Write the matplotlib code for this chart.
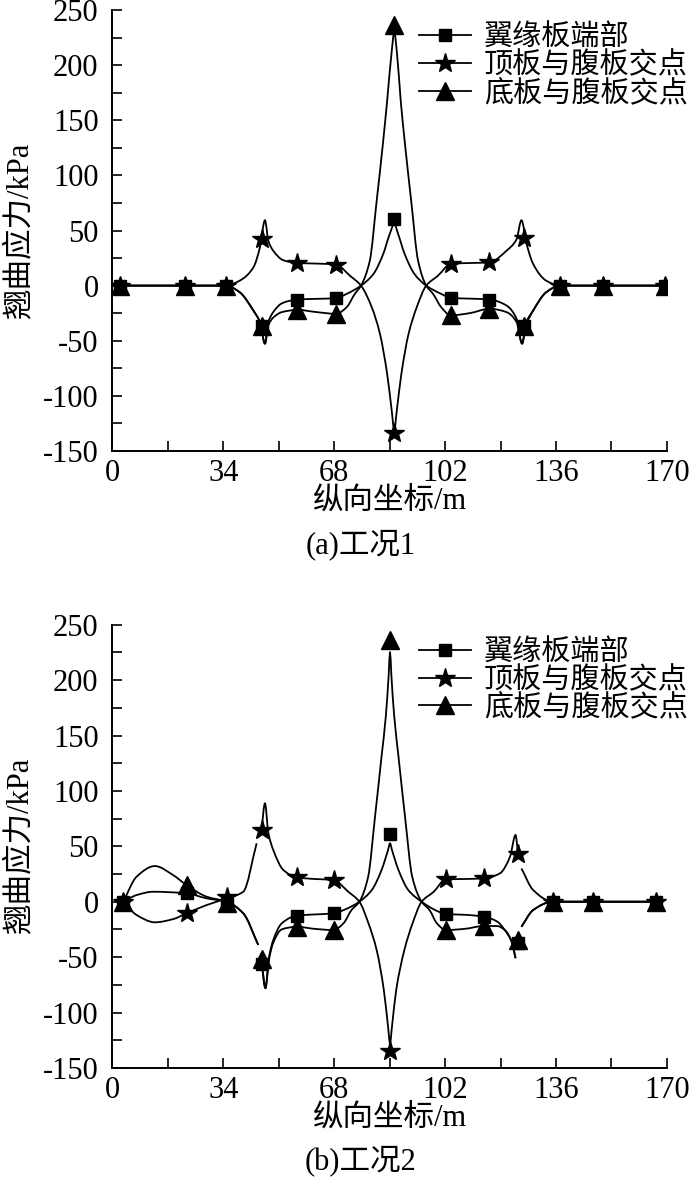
import matplotlib
matplotlib.use('Agg')
import numpy as np
import matplotlib.pyplot as plt
from matplotlib.path import Path
from matplotlib.patches import PathPatch
from matplotlib.lines import Line2D

plt.rcParams['font.family'] = ['Liberation Serif', 'Noto Sans CJK SC']
plt.rcParams['axes.unicode_minus'] = False

NAN = np.nan
SERIES = ['翼缘板端部', '顶板与腹板交点', '底板与腹板交点']
MARKERS = ['s', '*', '^']

# ---------------- (a) 工况1 ----------------
a_mx = [2.3, 22.2, 34.8, 45.7, 56.7, 68.6, 86.4, 103.7, 115.6, 126.3, 137.2, 150.3, 169.4]
a_sq = [0, 0, 0, -37, -12.6, -11.4, 60.2, -11.1, -12.6, -37, 0, 0, 0]
a_st = [0, 0, 0, 42, 20.5, 19, -133.8, 19.6, 21, 43.6, 0, 0, 0]
a_tr = [0, 0, 0, -37, -22, -25.6, 236, -27, -21, -37, 0, 0, 0]

# curve traces
a_sq_cx = [2.3, 22.2, 34.8, 39, 43.2, 45.2, 46.75, 47.8, 49.3, 52, 56.7, 62.5, 68.6, 71.8, 76.2,
           80, 83, 85, 86.4, 87.6, 89.6, 92.6, 96.2, 100.8, 103.7, 109.5, 115.6, 120.8, 123.9,
           125.6, 126.8, 129, 133, 137.2, 150.3, 169.4]
a_sq_cy = [0, 0, 0, -6, -22.6, -33, -52.6, -33, -24, -16, -12.6, -12, -11.4, -7.5, 0,
           10.5, 28.6, 46.7, 56, 46.7, 28.6, 10.5, 0, -7.5, -11.1, -11.8, -12.6, -18, -30,
           -52.6, -34, -22.6, -6, 0, 0, 0]
a_st_cx = [2.3, 22.2, 34.8, 39, 43.2, 45.2, 46.75, 47.8, 49.3, 52.4, 56.7, 62.5, 68.6, 72.8, 76.2,
           79.5, 82, 84.2, 85.6, 86.4, 87.2, 88.6, 90.8, 93.3, 96.2, 99.8, 103.7, 109.5, 115.6,
           120.8, 123.9, 125.4, 127, 129, 133, 137.2, 150.3, 169.4]
a_st_cy = [0, 0, 0, 4.5, 16.5, 34.6, 59.3, 40.6, 31.6, 23, 20.5, 20, 19, 9, 0,
           -19.6, -43.6, -79.7, -112.8, -131, -112.8, -79.7, -43.6, -19.6, 0, 9, 19.6, 20.5, 21,
           31.6, 42, 59.3, 37.6, 19.6, 4.5, 0, 0, 0]
a_tr_cx = [2.3, 22.2, 34.8, 39, 43.2, 45.2, 46.75, 47.8, 49.3, 52, 56.7, 62.5, 68.6, 71.8, 74.3,
           76.2, 78.9, 81, 83, 84.2, 85.6, 86.4, 87.2, 88.4, 89.6, 91.6, 93.7, 96.2, 98.3,
           100.8, 103.7, 109.5, 115.6, 120.8, 123.9, 125.6, 126.8, 129, 133, 137.2, 150.3, 169.4]
a_tr_cy = [0, 0, 0, -6, -22.6, -33, -52.6, -36, -29, -24, -22, -24, -25.6, -19.6, -7.5,
           0, 22.6, 76.7, 131, 167, 212, 230, 212, 167, 131, 76.7, 22.6, 0, -7.5,
           -19.6, -27, -25, -21, -24, -33, -52.6, -36, -22.6, -6, 0, 0, 0]

# ---------------- (b) 工况2 ----------------
b_mx = [3.3, 22.7, 35, 45.7, 56.5, 67.8, 85.1, 102.2, 113.9, 124.4, 135, 147.4, 166.6]
b_sq = [0, 7.6, -2, -56, -12.6, -10.5, 60.8, -11.1, -13.5, -37, 0, 0, 0]
b_st = [0, -10.5, 4, 64.7, 22, 19.6, -134.5, 20.2, 21.1, 43, 0, 0, 0]
b_tr = [0, 15, -1, -52, -22.6, -25.6, 236, -25.6, -21.9, -35, 0, 0, 0]

b_sq_cx = [3.3, 7.4, 12.5, 22.7, 28.9, 35, 40.1, 44.7, NAN, 45.7, 46.9, 48, 49.3, 51.9, 56.5,
           62, 67.8, 71.3, 75.7, 79.5, 82.5, 84.5, 85.1, 85.7, 87.7, 90.7, 94.8, 98.6, 102.2,
           108, 113.9, 118, 120.3, 122.4, 123.6, NAN, 125.4, 129, 135, 147.4, 166.6]
b_sq_cy = [0, 6, 9, 7.6, 3, 0, -10.5, -39, NAN, -55, -78, -50, -34.6, -19.5, -12.6,
           -11.5, -10.5, -7, 0, 10.5, 28.6, 46.7, 52.7, 46.7, 28.6, 10.5, 0, -7, -11.1,
           -11.8, -13.5, -18, -25.6, -36, -51, NAN, -22.6, -7.5, 0, 0, 0]
b_st_cx = [3.3, 7.4, 13, 18.6, 22.7, 28.9, 35, 40.1, 44.2, NAN, 45.7, 46.75, 47.8, 49.3, 52.4,
           56.5, 62, 67.8, 72.3, 75.7, 78.5, 81, 83.2, 84.5, 85.1, 85.7, 87, 89.5, 92,
           94.8, 98.5, 102.2, 108, 113.9, 118.8, 121.9, 123.6, 124.3, NAN, 125.4, 129, 135,
           147.4, 166.6]
b_st_cy = [0, -12, -18.6, -15.7, -10.5, -3, 3, 9, 52.7, NAN, 64.7, 88.8, 62, 46.7, 28.6,
           22, 20.5, 19.6, 9, 0, -19.6, -43.6, -79.7, -112.8, -127.8, -112.8, -79.7, -43.6, -19.6,
           0, 9, 20.2, 20.5, 21.1, 25.6, 40.6, 60.2, 45, NAN, 30, 10.5, 0,
           0, 0]
b_tr_cx = [3.3, 7.4, 13, 18.6, 22.7, 28.9, 35, 40.1, 44.7, NAN, 45.7, 46.9, 48, 49.3, 51.9,
           56.5, 62, 67.8, 70.8, 73.3, 75.7, 78.4, 80.5, 82.5, 83.8, 84.7, 85.1, 85.5, 86.4,
           87.7, 89.7, 91.9, 94.8, 97.2, 99.5, 102.2, 108, 113.9, 118, 120.3, 122.4, 123.6,
           NAN, 125.4, 129, 135, 147.4, 166.6]
b_tr_cy = [0, 22.6, 32.2, 24, 15, 4.5, 0, -10.5, -39, NAN, -52, -78, -52, -37, -25,
           -22.6, -24.5, -25.6, -19.6, -7.5, 0, 22.6, 76.7, 131, 167, 205, 225.6, 205, 167,
           131, 76.7, 22.6, 0, -7.5, -19.6, -25.6, -24.5, -21.9, -22, -25.6, -36, -51,
           NAN, -22.6, -7.5, 0, 0, 0]

XTICKS = [0, 34, 68, 102, 136, 170]
YTICKS = [-150, -100, -50, 0, 50, 100, 150, 200, 250]


def smooth_path(xs, ys):
    # monotone cubic (Fritsch-Carlson) bezier through the read points, NaN = gap
    xs = np.asarray(xs, float)
    ys = np.asarray(ys, float)
    verts, codes = [], []
    cuts = np.where(np.isnan(ys))[0]
    for idx in np.split(np.arange(len(xs)), cuts):
        idx = idx[~np.isnan(ys[idx])]
        if len(idx) < 2:
            continue
        x, y = xs[idx], ys[idx]
        h = np.diff(x)
        d = np.diff(y) / h
        m = np.zeros_like(y)
        m[0], m[-1] = d[0], d[-1]
        for k in range(1, len(x) - 1):
            if d[k - 1] * d[k] > 0:
                w1 = 2 * h[k] + h[k - 1]
                w2 = h[k] + 2 * h[k - 1]
                m[k] = (w1 + w2) / (w1 / d[k - 1] + w2 / d[k])
        verts.append((x[0], y[0]))
        codes.append(Path.MOVETO)
        for k in range(len(x) - 1):
            verts += [(x[k] + h[k] / 3, y[k] + m[k] * h[k] / 3),
                      (x[k + 1] - h[k] / 3, y[k + 1] - m[k + 1] * h[k] / 3),
                      (x[k + 1], y[k + 1])]
            codes += [Path.CURVE4] * 3
    return Path(verts, codes)


fig = plt.figure(figsize=(7, 11.94), dpi=100)
ax_a = fig.add_axes([0.1607, 0.6223, 0.792, 0.3693])
ax_b = fig.add_axes([0.1607, 0.1056, 0.792, 0.3712])

panels = [
    (ax_a, a_mx, [a_sq, a_st, a_tr],
     [(a_sq_cx, a_sq_cy), (a_st_cx, a_st_cy), (a_tr_cx, a_tr_cy)], '(a)工况1', 1 - 545 / 1194),
    (ax_b, b_mx, [b_sq, b_st, b_tr],
     [(b_sq_cx, b_sq_cy), (b_st_cx, b_st_cy), (b_tr_cx, b_tr_cy)], '(b)工况2', 1 - 1161 / 1194),
]

msizes = {'s': 9, '*': 14.5, '^': 13}

for ax, mx, mys, curves, cap, cap_y in panels:
    for (cx, cy) in curves:
        ax.add_patch(PathPatch(smooth_path(cx, cy), fill=False, ec='k', lw=1.3, zorder=2))
    for my, mk in zip(mys, MARKERS):
        ax.plot(mx, my, ls='none', marker=mk, ms=msizes[mk], color='k', zorder=3)

    ax.set_xlim(0, 170)
    ax.set_ylim(-150, 250)
    ax.set_xticks(XTICKS)
    ax.set_xticks([17, 51, 85, 119, 153], minor=True)
    ax.set_yticks(YTICKS)
    ax.set_yticks(np.arange(-125, 250, 50), minor=True)
    ax.tick_params(which='both', direction='in', length=7, width=1.2, labelsize=22)
    ax.tick_params(axis='y', pad=10)
    ax.tick_params(axis='x', pad=6)
    for s in ['top', 'right']:
        ax.spines[s].set_visible(False)
    for s in ['left', 'bottom']:
        ax.spines[s].set_linewidth(1.4)

    ax.set_xlabel('纵向坐标/m', fontsize=22, labelpad=-1)
    ax.set_ylabel('翘曲应力/kPa', fontsize=22, labelpad=6)

    handles = [Line2D([], [], color='k', lw=1.3, marker=mk, ms=msizes[mk]) for mk in MARKERS]
    ax.legend(handles, SERIES, loc='upper left', bbox_to_anchor=(0.552, 0.967),
              frameon=False, fontsize=21, handlelength=1.8, handletextpad=0.45,
              labelspacing=0.0, borderpad=0, borderaxespad=0)

    fig.text(0.515, cap_y, cap, ha='center', va='center', fontsize=22)

fig.savefig('out.png', dpi=100)
